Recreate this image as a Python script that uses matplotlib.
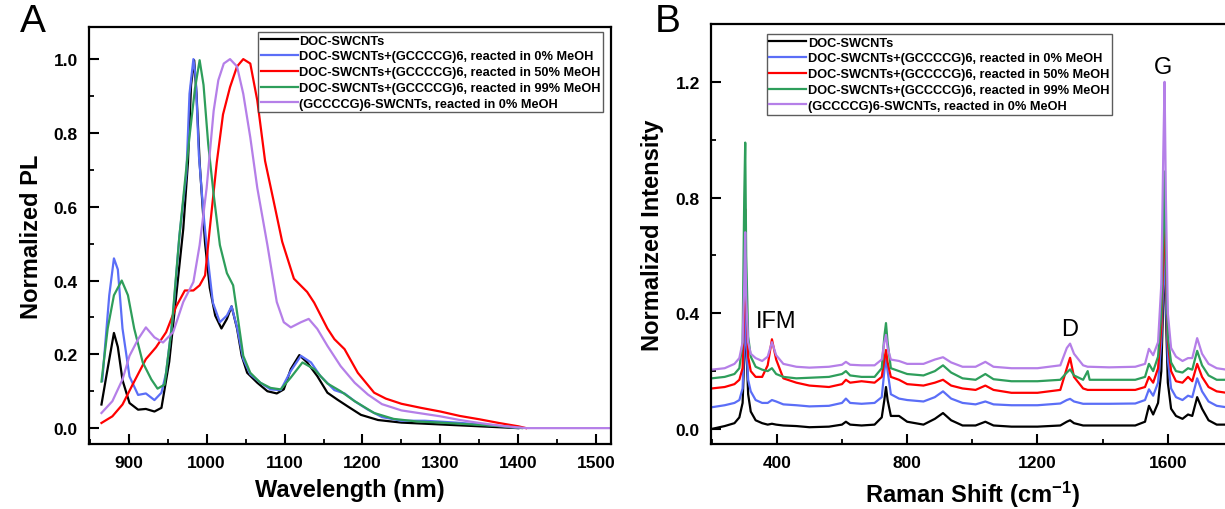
import numpy as np
import matplotlib
matplotlib.use("Agg")
import matplotlib.pyplot as plt
from matplotlib.ticker import MultipleLocator

plt.rcParams['font.family'] = ['Liberation Sans', 'DejaVu Sans']
plt.rcParams['mathtext.fontset'] = 'custom'
plt.rcParams['mathtext.bf'] = 'Liberation Sans:bold'
plt.rcParams['mathtext.rm'] = 'Liberation Sans:bold'
plt.rcParams['mathtext.default'] = 'bf'

labels = ["DOC-SWCNTs",
          "DOC-SWCNTs+(GCCCCG)6, reacted in 0% MeOH",
          "DOC-SWCNTs+(GCCCCG)6, reacted in 50% MeOH",
          "DOC-SWCNTs+(GCCCCG)6, reacted in 99% MeOH",
          "(GCCCCG)6-SWCNTs, reacted in 0% MeOH"]
colors = ['#000000', '#5b6ef7', '#ff0000', '#2e9e5b', '#b57fe8']

# ---- panel A: PL spectra (wavelength nm, normalized PL)
pl_black_x = [865, 872, 881, 886, 892, 901, 912, 922, 933, 942, 952, 961, 970, 976, 980, 984, 987, 991, 998, 1004,
              1011, 1019, 1026, 1032, 1039, 1045, 1052, 1065, 1078, 1090, 1099, 1108, 1119, 1129, 1142, 1155, 1168,
              1181, 1198, 1220, 1250, 1300, 1350, 1400]
pl_black_y = [0.064, 0.15, 0.258, 0.22, 0.13, 0.068, 0.05, 0.052, 0.045, 0.055, 0.18, 0.36, 0.54, 0.72, 0.93, 0.997,
              0.906, 0.72, 0.50, 0.38, 0.305, 0.27, 0.296, 0.33, 0.27, 0.196, 0.15, 0.123, 0.10, 0.094, 0.105, 0.16,
              0.198, 0.178, 0.141, 0.096, 0.077, 0.059, 0.036, 0.022, 0.015, 0.01, 0.005, 0.0]

pl_blue_x = [866, 875, 881, 886, 892, 901, 912, 922, 933, 942, 948, 957, 965, 974, 978, 983, 986, 990, 996, 1002,
             1008, 1017, 1026, 1032, 1039, 1047, 1056, 1069, 1082, 1095, 1108, 1121, 1134, 1146, 1164, 1177, 1190,
             1207, 1225, 1250, 1280, 1320, 1350, 1380, 1400]
pl_blue_y = [0.128, 0.36, 0.46, 0.43, 0.27, 0.14, 0.09, 0.094, 0.076, 0.096, 0.15, 0.31, 0.52, 0.69, 0.906, 1.0,
             0.95, 0.74, 0.58, 0.45, 0.34, 0.287, 0.305, 0.33, 0.273, 0.187, 0.146, 0.123, 0.105, 0.103, 0.155,
             0.196, 0.178, 0.141, 0.103, 0.094, 0.073, 0.05, 0.03, 0.02, 0.02, 0.015, 0.01, 0.005, 0.0]

pl_red_x = [865, 879, 892, 905, 922, 935, 948, 961, 972, 983, 991, 998, 1004, 1013, 1021, 1030, 1039, 1047, 1056,
            1065, 1075, 1086, 1097, 1112, 1129, 1138, 1155, 1164, 1177, 1194, 1215, 1230, 1250, 1275, 1300, 1325,
            1350, 1375, 1400, 1410]
pl_red_y = [0.014, 0.032, 0.064, 0.118, 0.187, 0.219, 0.26, 0.33, 0.373, 0.373, 0.387, 0.414, 0.54, 0.72, 0.85,
            0.924, 0.98, 1.0, 0.988, 0.888, 0.724, 0.615, 0.505, 0.405, 0.369, 0.34, 0.27, 0.241, 0.214, 0.15,
            0.096, 0.08, 0.066, 0.055, 0.045, 0.033, 0.024, 0.014, 0.005, 0.0]

pl_green_x = [865, 873, 881, 891, 899, 907, 918, 929, 937, 946, 955, 965, 978, 985, 991, 996, 1002, 1009, 1017,
              1026, 1034, 1039, 1047, 1056, 1069, 1082, 1095, 1108, 1123, 1138, 1155, 1172, 1190, 1215, 1240, 1270,
              1300, 1340, 1380, 1405]
pl_green_y = [0.126, 0.27, 0.36, 0.40, 0.36, 0.27, 0.178, 0.132, 0.107, 0.118, 0.27, 0.52, 0.79, 0.92, 0.997, 0.93,
              0.77, 0.633, 0.496, 0.42, 0.387, 0.314, 0.196, 0.15, 0.123, 0.109, 0.105, 0.137, 0.178, 0.16, 0.121,
              0.10, 0.073, 0.041, 0.025, 0.018, 0.015, 0.01, 0.005, 0.0]

pl_purple_x = [865, 879, 892, 901, 912, 922, 933, 944, 957, 970, 983, 991, 1000, 1009, 1015, 1022, 1030, 1039,
               1047, 1056, 1065, 1078, 1090, 1099, 1108, 1121, 1131, 1142, 1155, 1172, 1190, 1207, 1225, 1250, 1275,
               1300, 1325, 1350, 1375, 1400, 1410, 1520]
pl_purple_y = [0.041, 0.073, 0.132, 0.196, 0.241, 0.273, 0.246, 0.232, 0.26, 0.342, 0.396, 0.496, 0.651, 0.86,
               0.943, 0.988, 1.0, 0.98, 0.906, 0.788, 0.651, 0.496, 0.342, 0.287, 0.273, 0.287, 0.296, 0.269, 0.223,
               0.168, 0.123, 0.091, 0.065, 0.048, 0.04, 0.032, 0.022, 0.014, 0.007, 0.002, 0.0, 0.0]

# ---- panel B: Raman spectra (shared raman shift grid, cm-1)
raman_x = [200, 240, 270, 285, 295, 300, 303, 306, 312, 320, 335, 355, 372, 385, 398, 420, 460, 500, 560, 600,
           612, 625, 660, 700, 722, 730, 735, 740, 750, 775, 800, 850, 885, 910, 935, 970, 1010, 1040, 1065, 1120,
           1200, 1270, 1290, 1300, 1312, 1340, 1354, 1360, 1420, 1500, 1530, 1542, 1555, 1570, 1580, 1586, 1590,
           1594, 1600, 1610, 1625, 1645, 1662, 1675, 1690, 1705, 1725, 1750, 1780]
raman_black = [0.0, 0.01, 0.02, 0.04, 0.09, 0.25, 0.54, 0.3, 0.12, 0.06, 0.03, 0.02, 0.015, 0.018, 0.015, 0.012,
               0.01, 0.006, 0.008, 0.015, 0.025, 0.015, 0.012, 0.015, 0.04, 0.1, 0.145, 0.1, 0.045, 0.045, 0.025,
               0.015, 0.035, 0.055, 0.03, 0.012, 0.012, 0.025, 0.012, 0.008, 0.008, 0.012, 0.025, 0.03, 0.02,
               0.012, 0.012, 0.012, 0.012, 0.012, 0.025, 0.08, 0.05, 0.09, 0.2, 0.45, 0.69, 0.4, 0.16, 0.07,
               0.045, 0.035, 0.05, 0.045, 0.11, 0.07, 0.03, 0.015, 0.015]
raman_blue = [0.075, 0.082, 0.09, 0.1, 0.14, 0.3, 0.45, 0.3, 0.17, 0.13, 0.1, 0.09, 0.09, 0.1, 0.095, 0.085, 0.082,
              0.078, 0.08, 0.09, 0.105, 0.09, 0.087, 0.09, 0.11, 0.2, 0.245, 0.2, 0.12, 0.105, 0.1, 0.095, 0.11,
              0.13, 0.105, 0.09, 0.085, 0.095, 0.085, 0.082, 0.082, 0.088, 0.1, 0.104, 0.095, 0.087, 0.087, 0.087,
              0.087, 0.088, 0.1, 0.137, 0.115, 0.16, 0.3, 0.5, 0.62, 0.45, 0.24, 0.14, 0.11, 0.1, 0.115, 0.11,
              0.175, 0.13, 0.095, 0.08, 0.075]
raman_red = [0.14, 0.145, 0.155, 0.17, 0.21, 0.45, 0.76, 0.45, 0.25, 0.2, 0.18, 0.18, 0.22, 0.31, 0.24, 0.175,
             0.16, 0.15, 0.145, 0.155, 0.17, 0.16, 0.165, 0.16, 0.18, 0.24, 0.273, 0.23, 0.18, 0.17, 0.155, 0.15,
             0.16, 0.17, 0.15, 0.14, 0.135, 0.15, 0.135, 0.125, 0.125, 0.135, 0.21, 0.246, 0.18, 0.14, 0.135,
             0.135, 0.135, 0.135, 0.145, 0.18, 0.16, 0.21, 0.35, 0.6, 0.77, 0.55, 0.3, 0.2, 0.165, 0.16, 0.18,
             0.165, 0.225, 0.18, 0.145, 0.13, 0.125]
raman_green = [0.175, 0.18, 0.19, 0.21, 0.3, 0.8, 0.99, 0.6, 0.32, 0.25, 0.215, 0.205, 0.2, 0.21, 0.19, 0.18,
               0.175, 0.177, 0.18, 0.19, 0.2, 0.185, 0.18, 0.18, 0.21, 0.32, 0.366, 0.3, 0.21, 0.2, 0.19, 0.185,
               0.2, 0.22, 0.195, 0.175, 0.17, 0.19, 0.172, 0.165, 0.165, 0.17, 0.195, 0.206, 0.185, 0.17, 0.2,
               0.17, 0.17, 0.17, 0.18, 0.225, 0.2, 0.25, 0.4, 0.7, 0.89, 0.6, 0.32, 0.23, 0.2, 0.195, 0.21, 0.205,
               0.27, 0.22, 0.185, 0.17, 0.17]
raman_purple = [0.205, 0.21, 0.225, 0.245, 0.3, 0.5, 0.68, 0.45, 0.3, 0.26, 0.245, 0.235, 0.25, 0.3, 0.255, 0.225,
                0.215, 0.212, 0.215, 0.222, 0.232, 0.222, 0.22, 0.22, 0.24, 0.3, 0.325, 0.28, 0.24, 0.235, 0.225,
                0.225, 0.24, 0.248, 0.23, 0.215, 0.215, 0.232, 0.215, 0.21, 0.21, 0.22, 0.28, 0.295, 0.26, 0.22,
                0.215, 0.215, 0.213, 0.215, 0.225, 0.277, 0.255, 0.3, 0.5, 0.95, 1.2, 0.8, 0.4, 0.28, 0.25, 0.235,
                0.245, 0.245, 0.314, 0.26, 0.225, 0.21, 0.205]

W, H = 1225, 510
fig = plt.figure(figsize=(W / 100, H / 100), dpi=100)
axA = fig.add_axes([89 / W, (H - 445) / H, 522 / W, 417 / H])
axB = fig.add_axes([711 / W, (H - 445) / H, 522 / W, 420 / H])

pl_x = [pl_black_x, pl_blue_x, pl_red_x, pl_green_x, pl_purple_x]
pl_y = [pl_black_y, pl_blue_y, pl_red_y, pl_green_y, pl_purple_y]
for xs, ys, c, lab in zip(pl_x, pl_y, colors, labels):
    axA.plot(xs, ys, color=c, lw=1.6, label=lab)

for ys, c, lab in zip([raman_black, raman_blue, raman_red, raman_green, raman_purple], colors, labels):
    axB.plot(raman_x, ys, color=c, lw=1.6, label=lab)

axA.set_xlim(849, 1519)
axA.set_ylim(-0.043, 1.087)
axA.xaxis.set_major_locator(MultipleLocator(100))
axA.xaxis.set_minor_locator(MultipleLocator(50))
axA.yaxis.set_major_locator(MultipleLocator(0.2))
axA.yaxis.set_minor_locator(MultipleLocator(0.1))
axA.yaxis.set_major_formatter(matplotlib.ticker.FormatStrFormatter('%.1f'))
axA.set_xlabel("Wavelength (nm)", fontsize=17, fontweight='bold', labelpad=6)
axA.set_ylabel("Normalized PL", fontsize=17, fontweight='bold', labelpad=8)

axB.set_xlim(198, 1800)
axB.set_ylim(-0.052, 1.40)
axB.xaxis.set_major_locator(MultipleLocator(400))
axB.xaxis.set_minor_locator(MultipleLocator(200))
axB.yaxis.set_major_locator(MultipleLocator(0.4))
axB.yaxis.set_minor_locator(MultipleLocator(0.2))
axB.yaxis.set_major_formatter(matplotlib.ticker.FormatStrFormatter('%.1f'))
axB.set_xlabel("Raman Shift (cm$^{-1}$)", fontsize=17, fontweight='bold', labelpad=6)
axB.set_ylabel("Normalized Intensity", fontsize=17, fontweight='bold', labelpad=8)

for ax in (axA, axB):
    for s in ax.spines.values():
        s.set_linewidth(1.6)
    ax.tick_params(which='major', direction='in', length=7, width=1.5, labelsize=12.5, pad=8)
    ax.tick_params(which='minor', direction='in', length=3.5, width=1.3)
    for t in ax.get_xticklabels() + ax.get_yticklabels():
        t.set_fontweight('bold')

legA = axA.legend(loc='upper right', bbox_to_anchor=(0.985, 0.988), frameon=True, fancybox=False,
                  handlelength=2.9, handletextpad=0.1, labelspacing=0.3, borderpad=0.2, borderaxespad=0,
                  prop={'weight': 'bold', 'size': 9.2})
legB = axB.legend(loc='upper left', bbox_to_anchor=(0.107, 0.976), frameon=True, fancybox=False,
                  handlelength=2.9, handletextpad=0.1, labelspacing=0.3, borderpad=0.2, borderaxespad=0,
                  prop={'weight': 'bold', 'size': 9.2})
for leg in (legA, legB):
    leg.get_frame().set_edgecolor('#333333')
    leg.get_frame().set_linewidth(1.0)

axB.text(398, 0.373, "IFM", fontsize=17, ha='center', va='center')
axB.text(1300, 0.345, "D", fontsize=17, ha='center', va='center')
axB.text(1585, 1.25, "G", fontsize=17, ha='center', va='center')

fig.text(20 / W, 1 - 4 / H, "A", fontsize=28, va='top', ha='left')
fig.text(655 / W, 1 - 4 / H, "B", fontsize=28, va='top', ha='left')

fig.savefig("out.png", dpi=100)
